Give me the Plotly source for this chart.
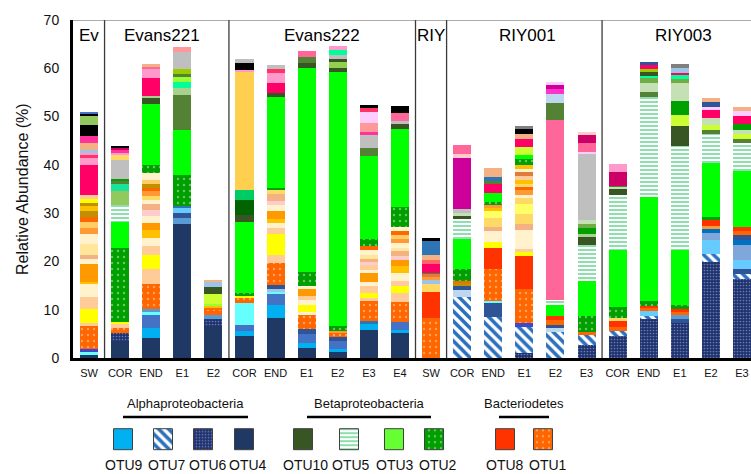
import plotly.graph_objects as go

# ---- categories -------------------------------------------------------------
samples = ["SW",
           "COR", "END", "E1", "E2",
           "COR", "END", "E1", "E2", "E3", "E4",
           "SW",
           "COR", "END", "E1", "E2", "E3",
           "COR", "END", "E1", "E2", "E3"]
sites = ["Ev", "Evans221", "Evans222", "RIY", "RIY001", "RIY003"]
site_members = [1, 4, 6, 1, 5, 5]

# ---- stacked composition of each sample, bottom to top (taxon, %) ----------
ev_sw = [("OTU4", 0.55), ("cyan", 0.7), ("indigo", 0.7), ("OTU1", 4.6), ("peach", 0.7),
         ("yellow", 2.8), ("peach", 2.6), ("cream", 2.6), ("amber", 0.5), ("orange", 3.7),
         ("cream", 1.0), ("salmon", 0.8), ("buff", 2.3), ("cream", 2.2), ("ltorange", 1.2),
         ("apricot", 1.2), ("redorange", 1.1), ("ochre", 1.2), ("amber", 1.0), ("ochre", 0.7),
         ("yellow", 0.7), ("peach", 1.0), ("magenta", 6.1), ("pink", 1.4), ("crimson", 0.6),
         ("pink", 0.6), ("ltblue", 0.5), ("salmon", 1.5), ("fuchsia", 1.4), ("black", 2.3),
         ("fern", 1.9), ("black", 0.4), ("blue", 0.5)]

e221_cor = [("OTU4", 3.5), ("OTU6", 1.6), ("OTU1", 1.2), ("peach", 0.7), ("yellow", 0.5),
            ("OTU2", 15.2), ("OTU3", 5.5), ("OTU5", 3.5), ("fern", 2.8), ("aqua", 1.6),
            ("olive", 0.7), ("kelly", 0.35), ("gray", 3.8), ("sand", 1.0), ("pink", 0.55),
            ("fuchsia", 0.5), ("plum", 0.5), ("black", 0.4)]
e221_end = [("OTU4", 4.2), ("OTU9", 2.1), ("blue", 2.6), ("cyan", 0.7), ("sky", 0.5),
            ("OTU1", 5.2), ("peach", 3.1), ("yellow", 2.9), ("peach", 1.9), ("cream", 1.7),
            ("amber", 1.6), ("orange", 1.5), ("cream", 1.4), ("blush", 1.2), ("salmon", 1.2),
            ("cream", 1.0), ("sand", 0.8), ("ltorange", 0.9), ("redorange", 0.8), ("ochre", 0.8),
            ("apricot", 0.8), ("cream", 1.4), ("OTU2", 1.7), ("OTU3", 12.6), ("OTU10", 1.25),
            ("sage", 0.5), ("magenta", 3.7), ("pink", 1.9), ("hotpink", 0.4), ("salmon", 0.5)]
e221_e1 = [("OTU4", 27.7), ("sky", 1.2), ("denim", 1.2), ("azure", 0.9), ("steel", 0.5),
           ("OTU2", 6.4), ("OTU3", 9.4), ("olive", 7.2), ("sage", 1.5), ("mint", 1.2),
           ("lime", 1.0), ("olive", 0.6), ("yellowgreen", 1.0), ("gray", 3.6), ("rose", 1.0)]
e221_e2 = [("OTU4", 6.6), ("OTU6", 1.4), ("sky", 1.0), ("redorange", 0.7), ("OTU1", 0.8),
           ("amber", 0.3), ("lime", 0.35), ("chartreuse", 2.1), ("OTU10", 1.4), ("ltblue", 1.0),
           ("salmon", 0.5)]

e222_cor = [("OTU4", 4.5), ("OTU9", 1.0), ("blue", 1.4), ("cyan", 4.5), ("OTU1", 1.0),
            ("yellow", 0.6), ("OTU2", 0.4), ("OTU3", 14.7), ("OTU10", 1.6), ("forest", 3.0),
            ("jade", 2.0), ("marigold", 24.5), ("pink", 0.5), ("black", 1.4), ("gray", 0.9)]
e222_end = [("OTU4", 8.2), ("OTU9", 2.7), ("blue", 2.3), ("cyan", 0.5), ("ltblue", 0.55),
            ("denim", 0.8), ("OTU1", 4.7), ("peach", 1.5), ("yellow", 4.4), ("peach", 1.2),
            ("cream", 1.2), ("amber", 0.8), ("orange", 1.6), ("cream", 1.2), ("blush", 0.9),
            ("salmon", 1.5), ("sand", 0.7), ("OTU2", 0.55), ("OTU3", 18.7), ("OTU10", 0.9),
            ("magenta", 2.1), ("pink", 2.0), ("crimson", 0.9), ("gray", 0.7)]
e222_e1 = [("OTU4", 2.1), ("OTU9", 1.0), ("blue", 1.9), ("denim", 1.0), ("OTU1", 2.9),
           ("cream", 0.7), ("yellow", 1.4), ("cream", 1.0), ("peach", 0.8), ("orange", 1.4),
           ("cream", 0.7), ("OTU2", 3.0), ("OTU3", 42.2), ("OTU10", 0.9), ("olive", 1.4),
           ("hotpink", 1.2)]
e222_e2 = [("OTU4", 1.2), ("OTU9", 0.7), ("blue", 1.6), ("denim", 0.8), ("OTU1", 0.8),
           ("ltorange", 0.5), ("OTU2", 1.0), ("OTU3", 52.7), ("OTU10", 0.8), ("leaf", 1.2),
           ("OTU10", 0.55), ("gray", 1.0), ("mint", 1.0), ("pink", 0.8)]
e222_e3 = [("OTU4", 5.9), ("OTU9", 1.2), ("steel", 0.55), ("OTU1", 4.1), ("peach", 0.7),
           ("yellow", 1.1), ("peach", 1.4), ("cream", 0.8), ("orange", 1.8), ("cream", 0.7),
           ("peach", 1.0), ("blush", 0.55), ("salmon", 0.7), ("buff", 0.8), ("cream", 1.0),
           ("redorange", 0.8), ("OTU2", 1.5), ("OTU3", 17.3), ("olive", 1.5), ("gray", 2.8),
           ("fuchsia", 0.55), ("rose", 1.9), ("lilac", 2.3), ("crimson", 0.8), ("black", 0.55)]
e222_e4 = [("OTU4", 5.1), ("OTU9", 0.8), ("blue", 1.5), ("OTU1", 4.2), ("peach", 1.9),
           ("yellow", 1.5), ("peach", 0.9), ("cream", 1.7), ("amber", 1.4), ("orange", 1.4),
           ("blush", 0.7), ("salmon", 1.0), ("buff", 0.7), ("cream", 1.0), ("ltorange", 0.8),
           ("apricot", 0.9), ("redorange", 0.7), ("cream", 0.9), ("OTU2", 4.2), ("OTU3", 16.2),
           ("OTU10", 0.9), ("gray", 0.7), ("hotpink", 1.6), ("black", 1.4)]

riy_sw = [("OTU1", 8.2), ("OTU8", 5.5), ("sand", 1.6), ("ltblue", 0.9), ("ltorange", 0.6),
          ("rust", 0.55), ("olive", 0.35), ("magenta", 1.7), ("coral", 0.9), ("salmon", 1.0),
          ("steel", 3.0), ("black", 0.5)]

r001_cor = [("OTU7", 12.7), ("paleblue", 1.3), ("denim", 0.9), ("ochre", 0.7), ("redorange", 0.35),
            ("OTU2", 2.4), ("OTU3", 6.2), ("OTU5", 4.3), ("OTU10", 0.7), ("celadon", 0.4),
            ("gray", 1.0), ("orchid", 10.4), ("blush", 1.0), ("hotpink", 1.8)]
r001_end = [("OTU7", 8.5), ("denim", 2.8), ("cyan", 0.5), ("OTU1", 6.6), ("OTU8", 4.4),
            ("yellow", 1.2), ("cream", 2.2), ("salmon", 1.0), ("sand", 1.7), ("lemon", 1.5),
            ("amber", 0.7), ("ltorange", 0.6), ("OTU2", 0.55), ("OTU3", 1.9), ("magenta", 1.9),
            ("olive", 0.7), ("steel", 0.7), ("salmon", 1.9)]
r001_e1 = [("OTU6", 1.0), ("OTU7", 5.5), ("indigo", 0.7), ("OTU1", 7.1), ("OTU8", 6.8),
           ("yellow", 0.9), ("peach", 0.6), ("cream", 3.9), ("salmon", 1.2), ("sand", 2.1),
           ("lemon", 2.1), ("sand", 1.2), ("cream", 0.7), ("ltorange", 0.9), ("redorange", 0.7),
           ("sand", 0.55), ("amber", 1.0), ("peach", 0.8), ("rust", 0.7), ("cream", 0.7),
           ("amber", 0.8), ("OTU2", 1.25), ("OTU3", 0.9), ("chartreuse", 1.7), ("magenta", 1.5),
           ("salmon", 1.0), ("black", 1.1), ("slate", 0.7)]
r001_e2 = [("OTU7", 5.3), ("paleblue", 0.9), ("denim", 0.7), ("redorange", 1.0), ("OTU8", 0.9),
           ("OTU3", 2.1), ("OTU5", 1.2), ("hotpink", 37.2), ("olive", 3.5), ("paleblue", 1.9),
           ("violet", 1.0), ("orchid", 0.8), ("lilac", 0.7)]
r001_e3 = [("OTU6", 2.6), ("OTU7", 2.2), ("redorange", 0.5), ("OTU2", 3.3), ("OTU3", 7.4),
           ("OTU5", 7.5), ("OTU10", 1.6), ("sage", 0.5), ("kelly", 1.4), ("moss", 0.8),
           ("celadon", 0.7), ("gray", 13.7), ("lilac", 0.5), ("hotpink", 1.8), ("plum", 1.7),
           ("blush", 0.6)]

r003_cor = [("OTU6", 4.6), ("OTU7", 0.9), ("redorange", 0.9), ("OTU8", 1.2), ("sand", 0.7),
            ("OTU2", 2.2), ("OTU3", 11.9), ("OTU5", 11.4), ("OTU10", 1.2), ("celadon", 0.35),
            ("olive", 0.35), ("plum", 2.9), ("pink", 1.6)]
r003_end = [("OTU6", 8.0), ("OTU7", 0.8), ("azure", 0.9), ("redorange", 0.7), ("OTU8", 0.35),
            ("OTU2", 1.0), ("OTU3", 21.5), ("OTU5", 20.9), ("olive", 0.9), ("celadon", 1.9),
            ("moss", 1.1), ("mint", 0.4), ("OTU10", 0.8), ("yellowgreen", 0.7), ("magenta", 0.7),
            ("denim", 0.7)]
r003_e1 = [("OTU6", 7.3), ("denim", 0.7), ("sky", 1.0), ("redorange", 0.5), ("OTU8", 0.7),
           ("OTU2", 0.75), ("OTU3", 11.4), ("OTU5", 21.6), ("OTU10", 4.2), ("chartreuse", 2.1),
           ("kelly", 2.9), ("celadon", 3.9), ("moss", 0.8), ("mint", 0.7), ("magenta", 0.55),
           ("ltblue", 1.0), ("slate", 0.8)]
r003_e2 = [("OTU6", 19.8), ("OTU7", 1.7), ("azure", 2.9), ("cornflower", 1.5), ("cobalt", 0.8),
           ("ltorange", 0.7), ("OTU8", 1.2), ("OTU2", 0.7), ("OTU3", 11.1), ("OTU5", 6.0),
           ("olive", 0.75), ("chartreuse", 1.1), ("celadon", 1.4), ("magenta", 1.7), ("lilac", 0.7),
           ("denim", 0.9), ("salmon", 1.0)]
r003_e3 = [("OTU6", 16.3), ("OTU7", 1.2), ("denim", 0.9), ("azure", 1.9), ("cornflower", 3.1),
           ("cobalt", 1.0), ("denim", 1.0), ("redorange", 0.8), ("OTU8", 0.9), ("OTU3", 11.6),
           ("OTU5", 5.8), ("olive", 0.8), ("chartreuse", 1.0), ("celadon", 0.9), ("kelly", 1.2),
           ("magenta", 1.7), ("lilac", 1.0), ("salmon", 0.8)]

columns = [ev_sw,
           e221_cor, e221_end, e221_e1, e221_e2,
           e222_cor, e222_end, e222_e1, e222_e2, e222_e3, e222_e4,
           riy_sw,
           r001_cor, r001_end, r001_e1, r001_e2, r001_e3,
           r003_cor, r003_end, r003_e1, r003_e2, r003_e3]

# ---- legend groups ----------------------------------------------------------
legend_groups = [("Alphaproteobacteria", ["OTU9", "OTU7", "OTU6", "OTU4"]),
                 ("Betaproteobacteria", ["OTU10", "OTU5", "OTU3", "OTU2"]),
                 ("Bacteriodetes", ["OTU8", "OTU1"])]

# ---- styling ----------------------------------------------------------------
FONT = "Liberation Sans, Arial, sans-serif"

OTU_STYLE = {
    "OTU1": dict(color="#FF6600", pattern=dict(shape=".", fgcolor="#FFE2C8", bgcolor="#FF6600", size=6, solidity=0.12)),
    "OTU2": dict(color="#009F00", pattern=dict(shape=".", fgcolor="#CDEFC8", bgcolor="#009F00", size=6, solidity=0.12)),
    "OTU3": dict(color="#00FF00"),
    "OTU4": dict(color="#203864"),
    "OTU5": dict(color="#FFFFFF", pattern=dict(shape="-", fgcolor="#1DBF5C", bgcolor="#FFFFFF", size=4, solidity=0.5)),
    "OTU6": dict(color="#1F3270", pattern=dict(shape=".", fgcolor="#B8C4E8", bgcolor="#1F3270", size=3, solidity=0.25)),
    "OTU7": dict(color="#FFFFFF", pattern=dict(shape="\\", fgcolor="#2A70BE", bgcolor="#FFFFFF",
                                               fgopacity=1, size=7, solidity=0.52)),
    "OTU8": dict(color="#FF3300"),
    "OTU9": dict(color="#00B0F0"),
    "OTU10": dict(color="#375623"),
}
OTU_LEGEND_COLOR = {"OTU3": "#66FF33"}

OTHER_COLORS = {
    "denim": "#2F5597", "blue": "#4472C4", "indigo": "#3F48CC", "steel": "#2E75B6",
    "sky": "#5B9BD5", "ltblue": "#9DC3E6", "paleblue": "#BDD7EE", "cyan": "#66FFFF",
    "azure": "#66CCFF", "cornflower": "#7FA7DA", "cobalt": "#0070C0",
    "peach": "#FFCC99", "yellow": "#FFFF00", "lemon": "#FFFF66", "cream": "#FFF2CC",
    "amber": "#FFC000", "orange": "#FF9900", "ltorange": "#FF9933", "apricot": "#FFCC66",
    "buff": "#FFE699", "sand": "#FFD966", "salmon": "#F4B183", "rust": "#E07B39",
    "redorange": "#FF6600", "ochre": "#BF9000", "marigold": "#FFD050",
    "blush": "#FFCCCC", "rose": "#FF9999", "coral": "#FF6666", "magenta": "#FF0066",
    "pink": "#FF99CC", "hotpink": "#FF6699", "fuchsia": "#FF3399", "crimson": "#FF3366",
    "plum": "#CC0066", "orchid": "#CC0099", "violet": "#FF33CC", "lilac": "#FFCCFF",
    "black": "#000000", "gray": "#BFBFBF", "slate": "#808080",
    "olive": "#548235", "sage": "#A9D18E", "leaf": "#92D050", "fern": "#92C95E",
    "moss": "#70AD47", "celadon": "#C5E0B4", "mint": "#00FF99", "jade": "#00CC66",
    "aqua": "#19E39A", "lime": "#99FF33", "chartreuse": "#CCFF33", "yellowgreen": "#99CC00",
    "forest": "#006400", "kelly": "#00A000",
}

# ---- collect the segments per taxon ------------------------------------------
segments = {}
order = []
for xi, column in enumerate(columns):
    base = 0.0
    for taxon, value in column:
        if taxon not in segments:
            segments[taxon] = {"x": [], "y": [], "base": []}
            order.append(taxon)
        segments[taxon]["x"].append(xi)
        segments[taxon]["y"].append(value)
        segments[taxon]["base"].append(base)
        base += value

fig = go.Figure()
BAR_W = 0.58
for taxon in order:
    seg = segments[taxon]
    if taxon in OTU_STYLE:
        st = OTU_STYLE[taxon]
        marker = dict(color=st["color"], line=dict(width=0))
        if "pattern" in st:
            marker["pattern"] = st["pattern"]
    else:
        marker = dict(color=OTHER_COLORS[taxon], line=dict(width=0))
    fig.add_trace(go.Bar(x=seg["x"], y=seg["y"], base=seg["base"], width=BAR_W,
                         marker=marker, name=taxon, showlegend=False,
                         hovertemplate=taxon + ": %{y}%<extra></extra>"))

# ---- custom legend drawn on its own axes (pixel-like coordinates) -----------
W, H = 751, 474
legend_x = {"OTU9": 123.5, "OTU7": 163.5, "OTU6": 203.5, "OTU4": 244.5,
            "OTU10": 303.5, "OTU5": 349.5, "OTU3": 394.5, "OTU2": 434.5,
            "OTU8": 505.5, "OTU1": 543.5}
label_x = {"OTU9": 124, "OTU7": 167, "OTU6": 208, "OTU4": 248,
           "OTU10": 305, "OTU5": 351, "OTU3": 395, "OTU2": 438,
           "OTU8": 505, "OTU1": 548}
for title, otus in legend_groups:
    for otu in otus:
        st = OTU_STYLE[otu]
        col = OTU_LEGEND_COLOR.get(otu, st["color"])
        marker = dict(color=col, line=dict(width=1, color="#404040"))
        if "pattern" in st:
            marker["pattern"] = st["pattern"]
        fig.add_trace(go.Bar(x=[legend_x[otu]], y=[21], base=[H - 450], width=19,
                             marker=marker, xaxis="x2", yaxis="y2",
                             showlegend=False, hoverinfo="skip"))


def paper_text(px, py, text, size, angle=0):
    return dict(x=px / W, y=(H - py) / H, xref="paper", yref="paper",
                xanchor="center", yanchor="middle", text=text, showarrow=False,
                textangle=angle, font=dict(family=FONT, size=size, color="#111111"))


annotations = []
title_pos = {"Alphaproteobacteria": (185, 123, 248),
             "Betaproteobacteria": (369, 307, 431),
             "Bacteriodetes": (524, 499, 549)}
shapes = []
for title, otus in legend_groups:
    cx, x0, x1 = title_pos[title]
    annotations.append(paper_text(cx, 403, title, 13))
    shapes.append(dict(type="line", xref="paper", yref="paper",
                       x0=x0 / W, x1=x1 / W, y0=(H - 417) / H, y1=(H - 417) / H,
                       line=dict(color="#000000", width=2.5)))
    for otu in otus:
        annotations.append(paper_text(label_x[otu], 465, otu, 14))

# ---- site headers and separators ---------------------------------------------
XMIN, XMAX = -0.515, 21.29
start = 0
for name, n in zip(sites, site_members):
    centre = start + (n - 1) / 2
    if name == "Evans221":
        centre -= 0.15
    if name == "RIY001":
        centre += 0.1
    if name == "RIY003":
        centre = min(centre + 0.12, 19.15)
    annotations.append(dict(x=centre, y=66.8, xref="x", yref="y", text=name,
                            xanchor="center", yanchor="middle",
                            showarrow=False, font=dict(family=FONT, size=17, color="#000000")))
    end = start + n
    if end < len(samples):
        shapes.append(dict(type="line", xref="x", yref="y", x0=end - 0.5, x1=end - 0.5,
                           y0=0, y1=70, line=dict(color="#3A3A3A", width=1.3)))
    start = end

shapes.append(dict(type="line", xref="x", yref="y", x0=XMIN, x1=XMAX, y0=70, y1=70,
                   line=dict(color="#5A5A5A", width=1.2)))

annotations.append(paper_text(22, 189, "Relative Abundance (%)", 16, angle=-90))

fig.update_layout(
    width=W, height=H, margin=dict(l=0, r=0, t=0, b=0),
    paper_bgcolor="white", plot_bgcolor="white",
    barmode="overlay", bargap=0,
    font=dict(family=FONT, color="#111111"),
    xaxis=dict(domain=[73 / W, 1], range=[XMIN, XMAX],
               tickmode="array", tickvals=list(range(len(samples))), ticktext=samples,
               tickfont=dict(family=FONT, size=11, color="#111111"),
               ticks="outside", ticklen=3, tickcolor="rgba(0,0,0,0)",
               showline=True, linecolor="#000000", linewidth=2.5,
               showgrid=False, zeroline=False, automargin=False, fixedrange=True),
    yaxis=dict(domain=[(H - 358) / H, (H - 20) / H], range=[0, 70],
               tickmode="array", tickvals=list(range(0, 71, 10)),
               tickfont=dict(family=FONT, size=14, color="#111111"),
               ticks="outside", ticklen=8, tickcolor="rgba(0,0,0,0)",
               showline=True, linecolor="#000000", linewidth=3,
               showgrid=False, zeroline=False, automargin=False, fixedrange=True),
    xaxis2=dict(domain=[0, 1], range=[0, W], visible=False, anchor="y2", fixedrange=True),
    yaxis2=dict(domain=[0, 0.2], range=[0, 0.2 * H], visible=False, anchor="x2", fixedrange=True),
    annotations=annotations, shapes=shapes,
)

fig.write_html("out.html")
